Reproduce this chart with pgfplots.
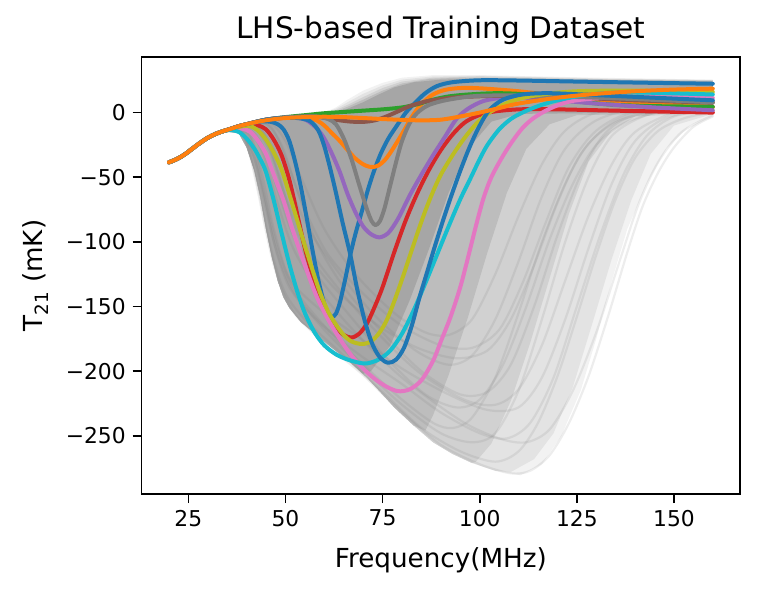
\documentclass[border=0pt]{standalone}
\usepackage{fontspec}
\setmainfont{DejaVu Sans}
\usepackage{pgfplots}
\pgfplotsset{compat=1.18}

% matplotlib tab10
\definecolor{tabblue}{HTML}{1F77B4}
\definecolor{taborange}{HTML}{FF7F0E}
\definecolor{tabgreen}{HTML}{2CA02C}
\definecolor{tabred}{HTML}{D62728}
\definecolor{tabpurple}{HTML}{9467BD}
\definecolor{tabbrown}{HTML}{8C564B}
\definecolor{tabpink}{HTML}{E377C2}
\definecolor{tabgray}{HTML}{7F7F7F}
\definecolor{tabolive}{HTML}{BCBD22}
\definecolor{tabcyan}{HTML}{17BECF}
\definecolor{cloudA}{HTML}{F2F2F2}
\definecolor{cloudB}{HTML}{E3E3E3}
\definecolor{cloudC}{HTML}{D1D1D1}
\definecolor{cloudD}{HTML}{BDBDBD}
\definecolor{cloudE}{HTML}{A6A6A6}

\begin{document}
\begin{tikzpicture}
\path[use as bounding box] (-70.85bp,-49.5bp) rectangle (308.65bp,247bp);
\begin{axis}[
  at={(0,0)}, anchor=south west,
  scale only axis, width=299.15bp, height=218.5bp,
  xmin=13, xmax=167, ymin=-295, ymax=43,
  xtick={25,50,75,100,125,150},
  xticklabels={25,50,75,100,125,150},
  ytick={-250,-200,-150,-100,-50,0},
  yticklabels={−250,−200,−150,−100,−50,0},
  tick align=outside, xtick pos=bottom, ytick pos=left,
  major tick length=4.5bp,
  every tick/.style={black, line width=0.8bp},
  axis line style={line width=0.8bp},
  ticklabel style={font=\fontsize{10.9bp}{13bp}\selectfont},
  label style={font=\fontsize{13.1bp}{15bp}\selectfont},
  xlabel style={yshift=-3.5bp},
  ylabel style={yshift=2bp},
  title style={font=\fontsize{14.8bp}{17bp}\selectfont, yshift=-3.5bp},
  title={LHS-based Training Dataset},
  xlabel={Frequency(MHz)},
  ylabel={T\textsubscript{21} (mK)},
  every axis plot/.append style={line join=round, line cap=round},
]
% ---- cloud of training curves, from faint to dense ----
\addplot[fill=cloudA, draw=none] coordinates {
  (34,-14.3)(36,-13)(40,-8)(45,-5)(50,-3)(55,-1.5)(60,0)(63,4)(66,10)(70,17)(75,23)(80,27)(88,29)(100,29)(130,27)(160,25.5)
  (160,-2)(154,-10)(148,-28)(143,-55)(138,-90)(134,-130)(130,-175)(126,-215)(121,-250)(116,-272)
  (110.5,-280.5)(104,-277)(98,-271)(93,-264)(88,-255)(83,-242)(78,-228)(75,-218)(71,-205)(67,-194)(62,-182)(58,-172)(54,-162)(51,-151)(49.5,-143)(48,-130)(46.5,-112)(45,-90)(43.5,-65)(42,-45)(40,-27)(38,-16)
} -- cycle;
\addplot[fill=cloudB, draw=none] coordinates {
  (34,-14.3)(36,-13)(40,-8)(45,-5)(50,-3)(55,-1.5)(60,-0.3)(63,3)(66,8)(70,14.5)(75,21)(80,25.5)(88,28)(100,28.5)(130,26.5)(160,25.2)
  (160,-1)(150,-10)(144,-32)(139,-68)(134,-113)(129,-163)(124,-212)(119,-248)(114,-268)(108,-278)
  (104,-277)(98,-271)(93,-264)(88,-255)(83,-242)(78,-228)(75,-218)(71,-205)(67,-194)(62,-182)(58,-172)(54,-162)(51,-151)(49.5,-143)(48,-130)(46.5,-112)(45,-90)(43.5,-65)(42,-45)(40,-27)(38,-16)
} -- cycle;
\addplot[fill=cloudC, draw=none] coordinates {
  (34,-14.3)(36,-13)(40,-8)(45,-5)(50,-3)(55,-1.6)(60,-0.6)(63,2)(66,6)(70,12)(75,19)(80,24)(88,27)(100,28)(130,26)(160,25)
  (160,0)(140,-3)(134,-14)(128,-38)(123,-78)(118,-128)(113,-178)(108,-223)(103,-256)(99,-270)
  (98,-271)(93,-264)(88,-255)(83,-242)(78,-228)(75,-218)(71,-205)(67,-194)(62,-182)(58,-172)(54,-162)(51,-151)(49.5,-143)(48,-130)(46.5,-112)(45,-90)(43.5,-65)(42,-45)(40,-27)(38,-16)
} -- cycle;
\addplot[fill=cloudD, draw=none] coordinates {
  (34,-14.3)(36,-13)(40,-8)(45,-5)(50,-3)(55,-1.8)(60,-0.8)(63,1)(66,4.5)(70,10)(75,17)(80,22.5)(87,26)(95,27)(110,26.5)(130,25.5)(160,24.5)
  (160,0)(125,-2)(118,-9)(112,-28)(107,-62)(102,-108)(97,-158)(92,-203)(88,-234)(86,-246)
  (83,-242)(78,-228)(75,-218)(71,-205)(67,-194)(62,-182)(58,-172)(54,-162)(51,-151)(49.5,-143)(48,-130)(46.5,-112)(45,-90)(43.5,-65)(42,-45)(40,-27)(38,-16)
} -- cycle;
\addplot[fill=cloudE, draw=none] coordinates {
  (34,-14.3)(36,-13)(40,-8)(45,-5)(50,-3)(55,-2)(60,-1)(63,0.5)(66,3)(70,8)(74,14)(78,19.5)(83,23.5)(90,25.5)(100,26)(130,25)(160,24)
  (160,0.5)(110,-1)(103,-7)(97,-28)(92,-62)(87,-105)(82,-145)(77,-180)(72,-200)(70,-202)
  (67,-194)(62,-182)(58,-172)(54,-162)(51,-151)(49.5,-143)(48,-130)(46.5,-112)(45,-90)(43.5,-65)(42,-45)(40,-27)(38,-16)
} -- cycle;
% faint individual curves
\pgfplotsset{faint/.style={black!55, opacity=0.13, line width=1.1bp, smooth}}
\addplot[faint] coordinates {(36,-13)(39,-17)(41,-35)(43,-62)(45,-92)(47,-118)(49.5,-140)(53,-158)(60,-178)(70,-203)(80,-232)(90,-257)(100,-272)(108,-279)(113,-277)(118,-265)(123,-240)(128,-204)(133,-158)(138,-108)(142,-72)(146,-46)(150,-27)(155,-11)(160,-3)};
\addplot[faint] coordinates {(36,-13)(39,-17)(41,-33)(43,-58)(45,-88)(47,-114)(50,-140)(55,-160)(65,-188)(75,-216)(85,-244)(95,-262)(104,-270)(110,-262)(115,-240)(120,-204)(125,-158)(130,-110)(135,-67)(140,-35)(146,-14)(153,-4)(160,0)};
\addplot[faint] coordinates {(36,-13)(39,-16)(42,-36)(45,-75)(48,-110)(52,-138)(60,-168)(70,-198)(80,-226)(90,-248)(98,-255)(104,-248)(110,-215)(116,-160)(122,-100)(128,-50)(134,-18)(142,-3)(150,2)(160,3)};
\addplot[faint] coordinates {(36,-13)(39,-16)(42,-35)(45,-70)(48,-105)(52,-135)(60,-165)(70,-195)(80,-222)(88,-240)(93,-244)(98,-236)(104,-205)(110,-155)(116,-100)(122,-55)(128,-24)(136,-6)(148,2)(160,5)};
\addplot[faint] coordinates {(37,-13)(40,-12)(44,-30)(48,-70)(52,-105)(58,-135)(68,-170)(80,-205)(95,-238)(105,-252)(112,-255)(118,-245)(124,-215)(130,-170)(136,-115)(141,-70)(146,-38)(152,-15)(160,-2)};
\addplot[faint] coordinates {(37,-13)(40,-11)(44,-25)(48,-60)(52,-95)(58,-125)(66,-155)(76,-190)(86,-218)(94,-228)(100,-222)(106,-195)(112,-150)(118,-98)(124,-55)(130,-25)(138,-7)(150,3)(160,6)};
\addplot[faint] coordinates {(38,-12)(42,-12)(46,-30)(50,-65)(55,-100)(62,-130)(72,-165)(84,-200)(96,-222)(104,-226)(110,-214)(116,-180)(122,-130)(128,-80)(134,-40)(140,-15)(150,0)(160,4)};
\addplot[faint] coordinates {(38,-12)(42,-10)(46,-22)(50,-50)(56,-90)(64,-125)(74,-160)(84,-185)(92,-195)(98,-188)(104,-160)(110,-115)(116,-65)(122,-28)(130,-6)(142,4)(160,8)};
\addplot[faint] coordinates {(40,-10)(45,-9)(49,-25)(53,-60)(58,-100)(65,-135)(75,-170)(85,-200)(95,-218)(102,-216)(108,-195)(114,-150)(120,-95)(126,-48)(132,-17)(140,-2)(160,6)};
\addplot[faint] coordinates {(40,-9)(46,-8)(50,-22)(54,-50)(60,-90)(68,-125)(78,-155)(86,-170)(92,-172)(98,-160)(104,-125)(110,-80)(116,-40)(122,-14)(130,0)(145,8)(160,10)};
\addplot[faint] coordinates {(37,-13)(41,-20)(44,-55)(47,-100)(51,-135)(58,-160)(68,-185)(80,-210)(90,-232)(100,-248)(107,-252)(113,-240)(119,-205)(125,-150)(131,-95)(137,-48)(143,-18)(150,-3)(160,2)};
\addplot[faint] coordinates {(37,-13)(41,-18)(44,-48)(47,-90)(51,-128)(58,-150)(68,-172)(80,-198)(92,-218)(102,-230)(110,-228)(116,-205)(122,-160)(128,-105)(134,-55)(140,-22)(148,-4)(160,3)};
\addplot[faint] coordinates {(39,-11)(44,-14)(48,-45)(52,-85)(57,-115)(64,-140)(74,-165)(84,-182)(94,-190)(102,-184)(108,-160)(114,-118)(120,-70)(126,-32)(134,-8)(145,4)(160,9)};
\addplot[faint] coordinates {(40,-9)(46,-10)(50,-35)(55,-75)(61,-110)(70,-140)(80,-165)(90,-180)(98,-182)(105,-168)(111,-132)(117,-85)(123,-42)(130,-14)(140,1)(160,9)};

% ---- highlighted curves ----
\pgfplotsset{hl/.style={line width=2bp, smooth}}
% blue A
\addplot[hl, tabblue] coordinates {(20,-38.5)(22,-36)(24,-32.5)(26,-28)(28,-23.5)(30,-19.5)(32,-16.5)(34,-14.3)(36,-12.5)(38,-10.5)(40,-9)(43,-7)(46,-7)(48,-9)(49.5,-13)(51,-22)(52.5,-38)(54,-58)(55.5,-82)(57,-107)(58.5,-130)(60,-148)(61,-155)(62,-158)(63,-155.5)(64,-147)(65.3,-130)(66.7,-110)(68,-94)(69.7,-76)(71.2,-60)(72.7,-46)(74.5,-32)(76.5,-20)(78.7,-10)(81,0)(83.5,8)(86,15)(89,20.5)(93,23.5)(100,25)(110,24.8)(125,24)(145,23)(160,22.3)};
% orange A
\addplot[hl, taborange] coordinates {(20,-38.5)(22,-36)(24,-32.5)(26,-28)(28,-23.5)(30,-19.5)(32,-16.5)(34,-14.3)(36,-12.5)(38,-10.5)(40,-9)(45,-5.5)(50,-4)(55,-4)(58,-6)(60,-10)(62,-16)(64,-22)(66,-29)(68,-35.5)(70,-40)(71.5,-41.8)(72.7,-42)(74,-40.8)(75.5,-37)(77,-31)(78.7,-23)(80.5,-14)(82,-6)(83.5,1)(85.5,8)(88,14)(91,17.5)(95,19)(100,18.8)(110,16.5)(120,13)(130,10)(145,7)(160,4.3)};
% green
\addplot[hl, tabgreen] coordinates {(20,-38.5)(22,-36)(24,-32.5)(26,-28)(28,-23.5)(30,-19.5)(32,-16.5)(34,-14.3)(36,-12.5)(38,-10.5)(40,-9)(45,-5.5)(50,-3.5)(55,-2)(60,-0.5)(65,0.5)(70,1.5)(75,2.5)(80,4)(84,6.5)(88,10)(92,12.5)(97,14)(104,15)(110,14.5)(115,13)(120,11)(127,8)(135,6)(145,5)(160,4.5)};
% red
\addplot[hl, tabred] coordinates {(20,-38.5)(22,-36)(24,-32.5)(26,-28)(28,-23.5)(30,-19.5)(32,-16.5)(34,-14.3)(37,-12)(39,-10.5)(41,-9.5)(43,-10)(45,-13)(47,-21)(49,-33)(51,-52)(53,-78)(55,-105)(57,-126)(59,-143)(61,-156)(63,-166)(65,-172)(67,-174)(69,-171)(71,-163)(73,-150)(75,-135)(78,-108)(81,-83)(84,-62)(87,-44)(90,-29)(93,-17)(96,-8)(99,-3)(103,0.5)(110,2.5)(120,2.5)(135,1.5)(160,0)};
% purple
\addplot[hl, tabpurple] coordinates {(20,-38.5)(22,-36)(24,-32.5)(26,-28)(28,-23.5)(30,-19.5)(32,-16.5)(34,-14.3)(36,-12.5)(38,-10.5)(40,-9)(45,-5.5)(50,-3.8)(53,-4)(55.5,-6)(58,-12)(60,-20)(62,-32)(64,-46)(66,-63)(68,-77)(70,-88)(72,-94)(74.2,-96.5)(76.5,-93)(79,-82)(82,-64)(85,-48)(88,-33)(91,-19)(94,-5)(97,3)(101,9)(106,11.5)(112,11.5)(120,9.5)(130,7)(145,4)(160,1.8)};
% brown
\addplot[hl, tabbrown] coordinates {(20,-38.5)(22,-36)(24,-32.5)(26,-28)(28,-23.5)(30,-19.5)(32,-16.5)(34,-14.3)(36,-12.5)(38,-10.5)(40,-9)(45,-5.5)(50,-3.8)(55,-3)(58,-3.2)(61,-4.5)(64,-6)(67,-7)(70,-7.2)(73,-6)(76,-3)(79,1)(82,5)(86,8.5)(90,10.5)(95,12)(105,13)(115,12.5)(125,11.5)(140,9.5)(160,7.7)};
% pink
\addplot[hl, tabpink] coordinates {(20,-38.5)(22,-36)(24,-32.5)(26,-28)(28,-23.5)(30,-19.5)(32,-16.5)(34,-14.3)(37,-12.5)(39,-12.5)(41,-15)(43,-22)(45,-32)(46.5,-44)(48,-56)(49.5,-68)(52,-92)(55,-118)(58,-142)(61,-160)(64,-175)(67,-188)(70,-198)(73,-206)(76,-212)(79,-215.5)(82,-214)(85,-207)(88,-192)(90,-177)(92.5,-158)(95,-135)(97,-112)(99,-88)(101,-66)(103,-50)(105.5,-36)(108,-24)(111,-12)(114,-4)(118,3)(123,8.5)(130,11)(140,12)(160,11.3)};
% gray
\addplot[hl, tabgray] coordinates {(20,-38.5)(22,-36)(24,-32.5)(26,-28)(28,-23.5)(30,-19.5)(32,-16.5)(34,-14.3)(36,-12.5)(38,-10.5)(40,-9)(45,-5.5)(50,-3.8)(55,-3)(58,-3)(61,-5)(63,-9)(65,-20)(67,-36)(69,-56)(71,-75)(72.2,-84)(73.2,-87)(74.3,-84)(75.5,-74)(77,-56)(78.5,-38)(80,-22)(82,-8)(84,0)(87,6)(92,10)(100,13)(115,13)(135,11)(160,8)};
% olive
\addplot[hl, tabolive] coordinates {(20,-38.5)(22,-36)(24,-32.5)(26,-28)(28,-23.5)(30,-19.5)(32,-16.5)(34,-14.3)(37,-12)(39,-10.5)(41,-10.5)(43,-14)(45,-21)(47,-31)(49,-44)(51,-63)(53,-83)(55,-103)(57,-122)(59,-140)(61,-154)(63,-164)(65,-172)(67,-177)(69.7,-179)(72,-177)(74,-171)(76,-161)(78,-146)(80,-129)(82,-111)(84,-93)(86,-76)(88,-61)(90,-48)(93,-33)(96,-20)(99,-9)(102,-1)(106,6)(110,10.5)(116,14)(125,16.5)(140,17)(160,16)};
% cyan
\addplot[hl, tabcyan] coordinates {(20,-38.5)(22,-36)(24,-32.5)(26,-28)(28,-23.5)(30,-19.5)(32,-16.5)(34,-14.3)(36,-13.5)(38,-15)(40,-20)(42,-28)(43.5,-36)(45,-46)(47,-68)(49,-93)(51,-117)(53,-138)(55,-155)(57.5,-170)(60,-180)(63,-187)(66,-191)(69,-193.5)(71,-194)(74,-191)(77,-184)(80,-171)(83,-153)(86,-132)(89,-110)(92,-88)(95,-67)(97.6,-51)(100,-36)(102,-25)(105,-13)(108,-5)(111,0)(115,5)(120,9.5)(127,13.5)(135,15.5)(145,15.3)(160,14)};
% blue B
\addplot[hl, tabblue] coordinates {(20,-38.5)(22,-36)(24,-32.5)(26,-28)(28,-23.5)(30,-19.5)(32,-16.5)(34,-14.3)(36,-12.5)(38,-10.5)(40,-9)(45,-5.5)(50,-4)(54,-4.5)(56.5,-7)(58.5,-14)(60,-26)(61.5,-43)(63,-62)(64.7,-85)(66.7,-110)(68.5,-137)(70.5,-162)(72.5,-180)(74.5,-190)(76.5,-193.5)(78.5,-191)(80.5,-182)(82.5,-165)(84.5,-143)(86.5,-123)(88.5,-103)(90.5,-84)(92.5,-66)(95,-45)(97.5,-26)(100,-10)(102.5,2)(106,10)(111,14)(118,15)(130,13.5)(145,11.5)(160,9.5)};
% orange B
\addplot[hl, taborange] coordinates {(20,-38.5)(22,-36)(24,-32.5)(26,-28)(28,-23.5)(30,-19.5)(32,-16.5)(34,-14.3)(36,-12.5)(38,-10.5)(40,-9)(43,-7)(46,-5.5)(50,-4.2)(55,-3.5)(60,-3.2)(65,-3.5)(70,-4.2)(75,-5)(80,-5.6)(85,-6)(90,-5.5)(95,-3)(100,0)(105,3.5)(110,7)(120,11.5)(130,14.5)(140,16.5)(150,17.8)(160,18.5)};
\end{axis}
\end{tikzpicture}
\end{document}
